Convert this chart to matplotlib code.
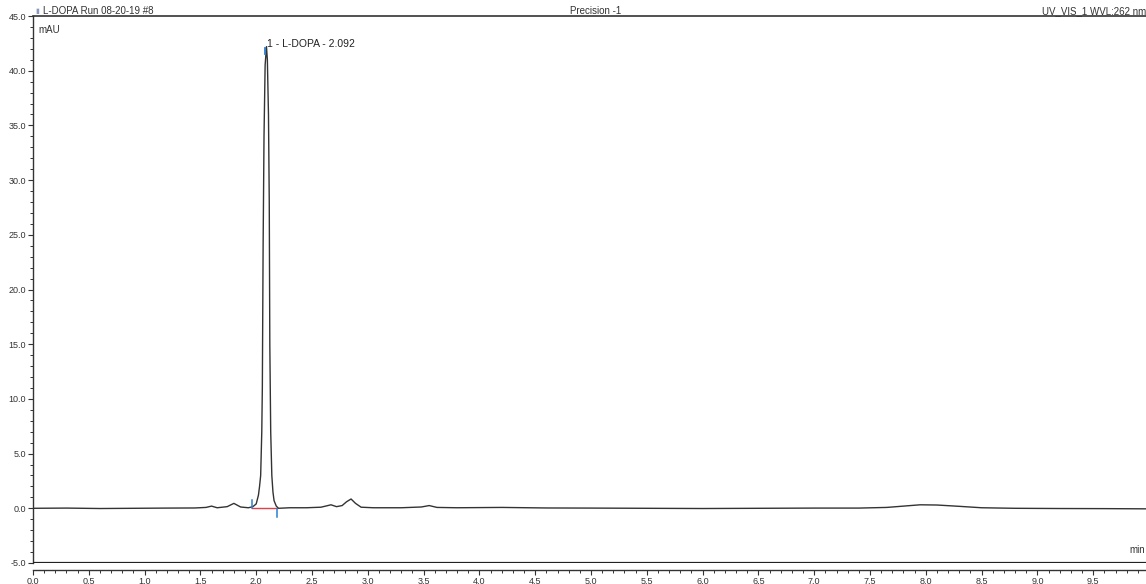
import matplotlib.pyplot as plt
from matplotlib.ticker import MultipleLocator, FormatStrFormatter

plt.rcParams['font.family'] = ['Liberation Sans Narrow', 'Liberation Sans', 'DejaVu Sans']

# chromatogram trace, UV_VIS_1 at 262 nm (time in min, signal in mAU)
time_min = [0.00, 0.30, 0.60, 0.90, 1.20, 1.45, 1.55, 1.60, 1.65, 1.74, 1.80, 1.86,
            1.93, 1.97, 2.00, 2.02, 2.03, 2.04, 2.05, 2.055, 2.062, 2.07, 2.08, 2.092,
            2.10, 2.11, 2.117, 2.122, 2.13, 2.14, 2.15, 2.16, 2.18, 2.20, 2.30, 2.45,
            2.58, 2.63, 2.67, 2.72, 2.77, 2.81, 2.85, 2.89, 2.94, 3.05, 3.30, 3.48,
            3.55, 3.62, 3.80, 4.20, 4.60, 5.00, 5.50, 6.00, 6.50, 7.00, 7.40, 7.65,
            7.80, 7.95, 8.10, 8.30, 8.50, 8.80, 9.20, 9.60, 10.00]
signal_mau = [0.00, 0.02, -0.02, 0.00, 0.02, 0.03, 0.08, 0.20, 0.05, 0.15, 0.45, 0.12,
              0.05, 0.15, 0.40, 1.20, 2.00, 3.00, 7.00, 11.0, 24.0, 34.0, 40.5, 42.2,
              41.0, 36.0, 28.0, 15.0, 7.00, 3.00, 1.50, 0.70, 0.20, 0.00, 0.05, 0.05,
              0.10, 0.22, 0.32, 0.15, 0.25, 0.60, 0.85, 0.45, 0.10, 0.05, 0.05, 0.12,
              0.25, 0.08, 0.05, 0.08, 0.03, 0.02, 0.00, -0.02, 0.00, 0.02, 0.02, 0.08,
              0.20, 0.32, 0.30, 0.18, 0.05, 0.00, -0.02, -0.03, -0.05]

peak_label = '1 - L-DOPA - 2.092'
peak_rt = 2.092
peak_height = 42.2
peak_start, peak_end = 1.965, 2.19

x_major = [0.5 * i for i in range(20)]
y_major = [-5.0, 0.0, 5.0, 10.0, 15.0, 20.0, 25.0, 30.0, 35.0, 40.0, 45.0]

W, H = 1146, 584
fig = plt.figure(figsize=(W / 100, H / 100), dpi=100)
left, right, top, bottom = 33, 1146, 16, 563
ax = fig.add_axes([left / W, 1 - bottom / H, (right - left) / W, (bottom - top) / H])

ax.plot(time_min, signal_mau, color='#333333', lw=1.0, zorder=3)

# integration baseline and delimiters
ax.plot([peak_start, peak_end], [0.02, 0.02], color='#e0404a', lw=1.0, zorder=2)
ax.plot([peak_start, peak_start], [0.0, 0.8], color='#2a7fd0', lw=1.1, zorder=4)
ax.plot([peak_end, peak_end], [-0.1, -0.8], color='#2a7fd0', lw=1.1, zorder=4)
ax.plot([peak_rt - 0.012, peak_rt - 0.012], [peak_height - 0.7, peak_height - 0.1],
        color='#2a7fd0', lw=1.3, zorder=4)
ax.text(peak_rt + 0.004, peak_height + 0.2, peak_label, fontsize=7.5, color='#222222',
        ha='left', va='center')

ax.set_xlim(0, (right - left) / 111.6)
ax.set_ylim(-5, 45)

ax.axhline(-5, color='#222222', lw=1.6, zorder=5)
ax.spines['right'].set_visible(False)
ax.spines['top'].set_color('#333333')
ax.spines['top'].set_linewidth(1.2)
ax.spines['left'].set_color('#333333')
ax.spines['left'].set_linewidth(1.0)
ax.spines['bottom'].set_position(('outward', 5))
ax.spines['bottom'].set_color('#333333')
ax.spines['bottom'].set_linewidth(1.0)

ax.set_xticks(x_major)
ax.xaxis.set_minor_locator(MultipleLocator(0.1))
ax.xaxis.set_major_formatter(FormatStrFormatter('%.1f'))
ax.set_yticks(y_major)
ax.yaxis.set_minor_locator(MultipleLocator(1.0))
ax.yaxis.set_major_formatter(FormatStrFormatter('%.1f'))
ax.tick_params(axis='both', which='major', length=3.5, width=0.8, labelsize=6.5,
               colors='#333333', pad=1.5)
ax.tick_params(axis='both', which='minor', length=2, width=0.7, colors='#333333')

# header and units
fig.text(43 / W, 1 - 11 / H, 'L-DOPA Run 08-20-19 #8', fontsize=7, color='#333333',
         ha='left', va='center')
fig.text(37 / W, 1 - 11 / H, '▮', fontsize=5, color='#8899bb', ha='center', va='center')
fig.text(596 / W, 1 - 11 / H, 'Precision -1', fontsize=7, color='#333333',
         ha='center', va='center')
fig.text(1146 / W, 1 - 11 / H, 'UV_VIS_1 WVL:262 nm', fontsize=7, color='#333333',
         ha='right', va='center')
fig.text(38 / W, 1 - 30 / H, 'mAU', fontsize=7, color='#333333', ha='left', va='center')
fig.text(1145 / W, 1 - 550 / H, 'min', fontsize=7, color='#333333', ha='right',
         va='center')

fig.savefig('out.png', dpi=100)
